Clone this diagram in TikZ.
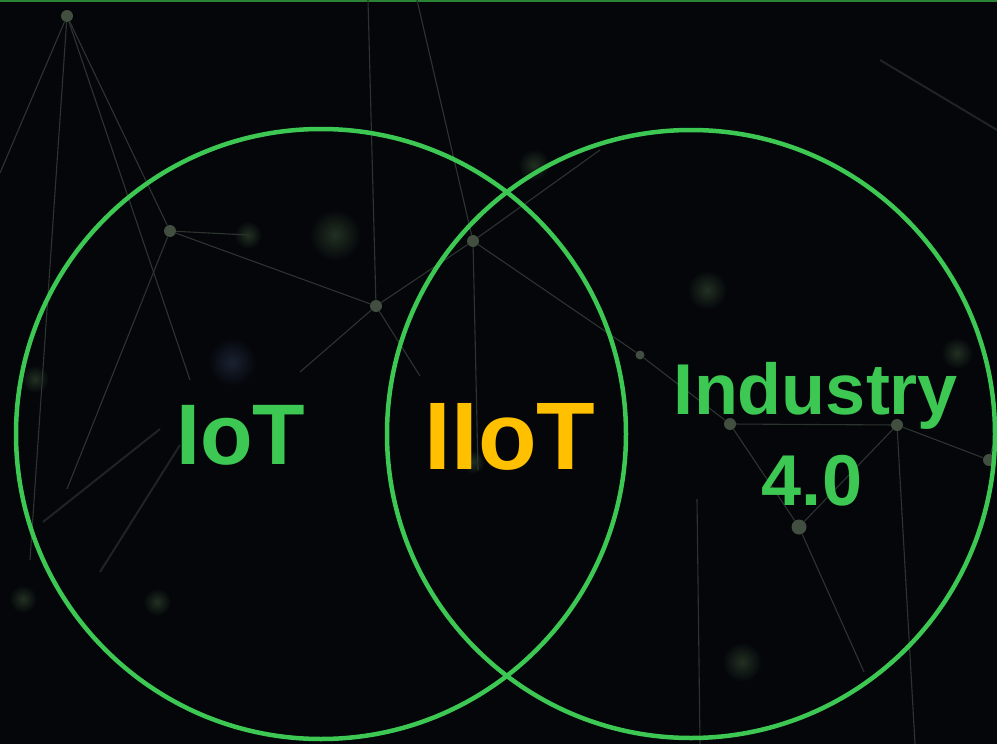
\documentclass[tikz,border=0pt]{standalone}
\usepackage{fontspec}
\setmainfont{Liberation Sans}

\definecolor{bgdark}{RGB}{4,6,10}
\definecolor{ringgreen}{RGB}{60,200,82}
\definecolor{edgegreen}{RGB}{42,130,52}
\definecolor{iiotgold}{RGB}{255,192,0}
\definecolor{netline}{RGB}{44,52,48}
\definecolor{netdot}{RGB}{66,78,64}
\definecolor{glowgreen}{RGB}{34,48,34}
\definecolor{glowblue}{RGB}{26,34,50}

\tikzset{
  ring/.style={draw=ringgreen, line width=4.5pt},
  hub/.style={circle, fill=netdot, inner sep=0pt, minimum size=12pt},
  link/.style={draw=netline, line width=1.1pt},
  streak/.style={draw=glowblue!70!white!30!bgdark, line width=2pt},
  bigword/.style={font=\bfseries\fontsize{#1}{#1}\selectfont, inner sep=0pt, anchor=base},
}

\begin{document}
\begin{tikzpicture}[x=1pt, y=-1pt]
\useasboundingbox (0,0) rectangle (997,744);
\fill[bgdark] (0,0) rectangle (997,744);
\draw[edgegreen, line width=2pt] (0,1) -- (997,1);

% soft glows behind the network
\shade[inner color=glowgreen, outer color=bgdark] (248,235) circle (14pt);
\shade[inner color=glowgreen, outer color=bgdark] (335,235) circle (26pt);
\shade[inner color=glowgreen, outer color=bgdark] (534,165) circle (16pt);
\shade[inner color=glowgreen, outer color=bgdark] (707,290) circle (20pt);
\shade[inner color=glowgreen, outer color=bgdark] (957,353) circle (16pt);
\shade[inner color=glowgreen, outer color=bgdark] (742,662) circle (20pt);
\shade[inner color=glowgreen, outer color=bgdark] (23,599) circle (14pt);
\shade[inner color=glowgreen, outer color=bgdark] (157,602) circle (14pt);
\shade[inner color=glowgreen, outer color=bgdark] (35,379) circle (14pt);
\shade[inner color=glowblue, outer color=bgdark] (232,362) circle (24pt);
\shade[inner color=glowgreen, outer color=bgdark] (473,462) circle (12pt);

% network hubs
\node[hub] (h1) at (67,16) {};
\node[hub] (h2) at (170,231) {};
\node[hub] (h3) at (376,306) {};
\node[hub] (h4) at (473,241) {};
\node[hub, minimum size=9pt] (h5) at (640,355) {};
\node[hub] (h6) at (730,424) {};
\node[hub] (h7) at (897,425) {};
\node[hub] (h8) at (989,460) {};
\node[hub, minimum size=15pt] (h9) at (799,527) {};

% loose ends
\coordinate (e1) at (0,173);
\coordinate (e2) at (30,560);
\coordinate (e3) at (190,380);
\coordinate (e4) at (67,489);
\coordinate (e5) at (248,235);
\coordinate (e6) at (368,0);
\coordinate (e7) at (300,372);
\coordinate (e8) at (420,376);
\coordinate (e9) at (417,0);
\coordinate (e10) at (478,470);
\coordinate (e11) at (864,672);
\coordinate (e12) at (915,744);
\coordinate (e13) at (997,430);
\coordinate (e14) at (697,499);
\coordinate (e15) at (700,744);
\coordinate (e16) at (600,150);

\draw[link] (h1) to (e1);
\draw[link] (h1) to (e2);
\draw[link] (h1) to (h2);
\draw[link] (h1) to (e3);
\draw[link] (h2) to (h3);
\draw[link] (h2) to (e5);
\draw[link] (h2) to (e4);
\draw[link] (h3) to (e6);
\draw[link] (h3) to (h4);
\draw[link] (h3) to (e7);
\draw[link] (h3) to (e8);
\draw[link] (h4) to (e9);
\draw[link] (h4) to (e10);
\draw[link] (h4) to (h5);
\draw[link] (h5) to (h6);
\draw[link] (h6) to (h7);
\draw[link] (h7) to (h8);
\draw[link] (h6) to (h9);
\draw[link] (h7) to (h9);
\draw[link] (h9) to (e11);
\draw[link] (h7) to (e12);
\draw[link] (h8) to (e13);
\draw[link] (e14) to (e15);
\draw[link] (h4) to (e16);

% bright streaks
\coordinate (s1) at (880,60);
\coordinate (s2) at (997,130);
\coordinate (s3) at (43,522);
\coordinate (s4) at (160,429);
\coordinate (s5) at (100,572);
\coordinate (s6) at (180,445);
\draw[streak] (s1) to (s2);
\draw[streak] (s3) to (s4);
\draw[streak] (s5) to (s6);

% the two sets
\draw[ring] (321,434) circle (305pt);
\draw[ring] (691,434) circle (304pt);

\node[bigword=86, text=ringgreen] (iot) at (241,464) {IoT};
\node[bigword=96, text=iiotgold] (iiot) at (510,469) {IIoT};
\node[bigword=72, text=ringgreen] (industry) at (816,414) {Industry};
\node[bigword=72, text=ringgreen] (four) at (812,505) {4.0};
\end{tikzpicture}
\end{document}
